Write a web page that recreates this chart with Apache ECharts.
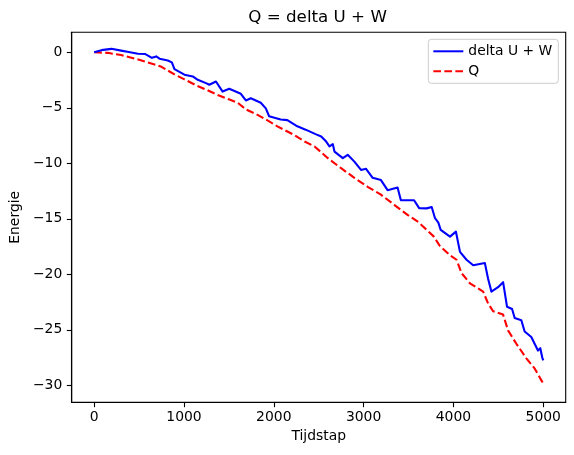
<!DOCTYPE html>
<html>
<head>
<meta charset="utf-8">
<script src="https://cdn.jsdelivr.net/npm/echarts@6/dist/echarts.min.js"></script>
<style>html,body{margin:0;padding:0;background:#fff;}#c{width:574px;height:455px;}</style>
</head>
<body>
<div id="c"></div>
<script>
const titleText = 'Q = delta U + W';
const xLabel = 'Tijdstap';
const yLabel = 'Energie';
const seriesNames = ['delta U + W', 'Q'];
const xTicks = [0, 1000, 2000, 3000, 4000, 5000];
const yTicks = [-30, -25, -20, -15, -10, -5, 0];

const blueX = [0,100,192,300,385,488,570,643,691,728,820,865,894,1005,1098,1153,1245,1282,1356,1430,1504,1633,1689,1744,1855,1911,1948,2077,2151,2262,2354,2465,2528,2583,2620,2657,2676,2768,2823,2897,2971,3027,3101,3193,3267,3378,3415,3562,3618,3703,3758,3795,3832,3858,3962,4028,4073,4146,4220,4350,4386,4423,4497,4553,4597,4653,4682,4756,4793,4867,4904,4941,4967,4989,5000];
const blueY = [0,0.22,0.31,0.15,0.02,-0.13,-0.16,-0.5,-0.37,-0.58,-0.74,-0.91,-1.52,-2.02,-2.18,-2.48,-2.78,-2.93,-2.63,-3.54,-3.29,-3.74,-4.34,-4.14,-4.55,-5.05,-5.76,-6.06,-6.11,-6.67,-6.97,-7.37,-7.58,-8.04,-8.48,-8.28,-8.95,-9.54,-9.24,-9.85,-10.6,-10.5,-11.31,-11.51,-12.42,-12.19,-13.33,-13.33,-14.04,-14.06,-13.94,-14.95,-15.35,-16.0,-16.61,-16.16,-17.98,-18.69,-19.19,-18.99,-20.4,-21.56,-21.16,-20.71,-22.93,-23.13,-23.94,-24.14,-25.15,-25.65,-26.26,-26.87,-26.66,-27.5,-27.75];

const redX = [0,150,300,450,600,750,900,1000,1150,1250,1375,1500,1600,1690,1800,1892,2040,2225,2343,2454,2602,2749,2897,3045,3193,3341,3489,3610,3777,3851,3962,4035,4091,4184,4331,4386,4442,4553,4608,4701,4812,4904,4989,5000];
const redY = [0,-0.05,-0.25,-0.56,-0.91,-1.31,-2.02,-2.42,-3.03,-3.38,-3.84,-4.24,-4.55,-5.15,-5.56,-5.96,-6.67,-7.44,-8.04,-8.48,-9.54,-10.44,-11.31,-12.12,-12.83,-13.74,-14.65,-15.3,-16.56,-17.47,-18.28,-18.69,-19.9,-20.81,-21.56,-22.62,-23.33,-23.63,-25.05,-26.26,-27.57,-28.48,-29.69,-30.0];

const FONT = 'DejaVu Sans';
const minus = v => String(v).replace('-', '\u2212');
const chart = echarts.init(document.getElementById('c'), null, {renderer: 'canvas'});
const gridL = 69.5, gridT = 32.3, gridR = 574 - 565.7, gridB = 455 - 402.3;

chart.setOption({
  animation: false,
  backgroundColor: '#fff',
  graphic: [{
    type: 'text', x: (gridL + 565.7) / 2, y: 18,
    style: {text: titleText, font: '16.7px "DejaVu Sans"', fill: '#000', textAlign: 'center', textVerticalAlign: 'middle'}
  }],
  grid: {left: gridL, top: gridT, right: gridR, bottom: gridB, show: true, borderColor: '#000', borderWidth: 1.1, backgroundColor: 'transparent'},
  legend: {
    show: true,
    orient: 'vertical', right: 15.7, top: 39.3,
    itemWidth: 30, itemHeight: 14, itemGap: 6,
    padding: [5, 6, 5, 4],
    backgroundColor: 'rgba(255,255,255,0.8)', borderColor: '#cccccc', borderWidth: 1, borderRadius: 3,
    textStyle: {fontFamily: FONT, fontSize: 13.9, color: '#000'},
    itemStyle: {opacity: 0},
    data: seriesNames,
    selectedMode: false
  },
  xAxis: {
    type: 'value', min: -250, max: 5250,
    name: xLabel, nameLocation: 'middle', nameGap: 26,
    nameTextStyle: {fontFamily: FONT, fontSize: 13.9, color: '#000'},
    axisLine: {show: true, onZero: false, lineStyle: {color: '#000', width: 1.1}},
    axisTick: {show: true, inside: false, length: 4.9, customValues: xTicks, lineStyle: {color: '#000', width: 1.1}},
    axisLabel: {customValues: xTicks, margin: 8, fontFamily: FONT, fontSize: 13.9, color: '#000', formatter: v => minus(v)},
    splitLine: {show: false}
  },
  yAxis: {
    type: 'value', min: -31.53, max: 1.8,
    name: yLabel, nameLocation: 'middle', nameGap: 46, nameRotate: 90,
    nameTextStyle: {fontFamily: FONT, fontSize: 13.9, color: '#000'},
    axisLine: {show: true, onZero: false, lineStyle: {color: '#000', width: 1.1}},
    axisTick: {show: true, inside: false, length: 4.9, customValues: yTicks, lineStyle: {color: '#000', width: 1.1}},
    axisLabel: {customValues: yTicks, margin: 9.5, fontFamily: FONT, fontSize: 13.9, color: '#000', formatter: v => minus(v)},
    splitLine: {show: false}
  },
  series: [
    {
      name: seriesNames[0], type: 'line', symbol: 'none', z: 3,
      data: blueX.map((x, i) => [x, blueY[i]]),
      lineStyle: {color: '#0000ff', width: 2.1, join: 'round'},
      itemStyle: {color: '#0000ff'}
    },
    {
      name: seriesNames[1], type: 'line', symbol: 'none', z: 2,
      data: redX.map((x, i) => [x, redY[i]]),
      lineStyle: {color: '#ff0000', width: 2.1, type: [7.7, 3.3]},
      itemStyle: {color: '#ff0000'}
    }
  ]
});
</script>
</body>
</html>
